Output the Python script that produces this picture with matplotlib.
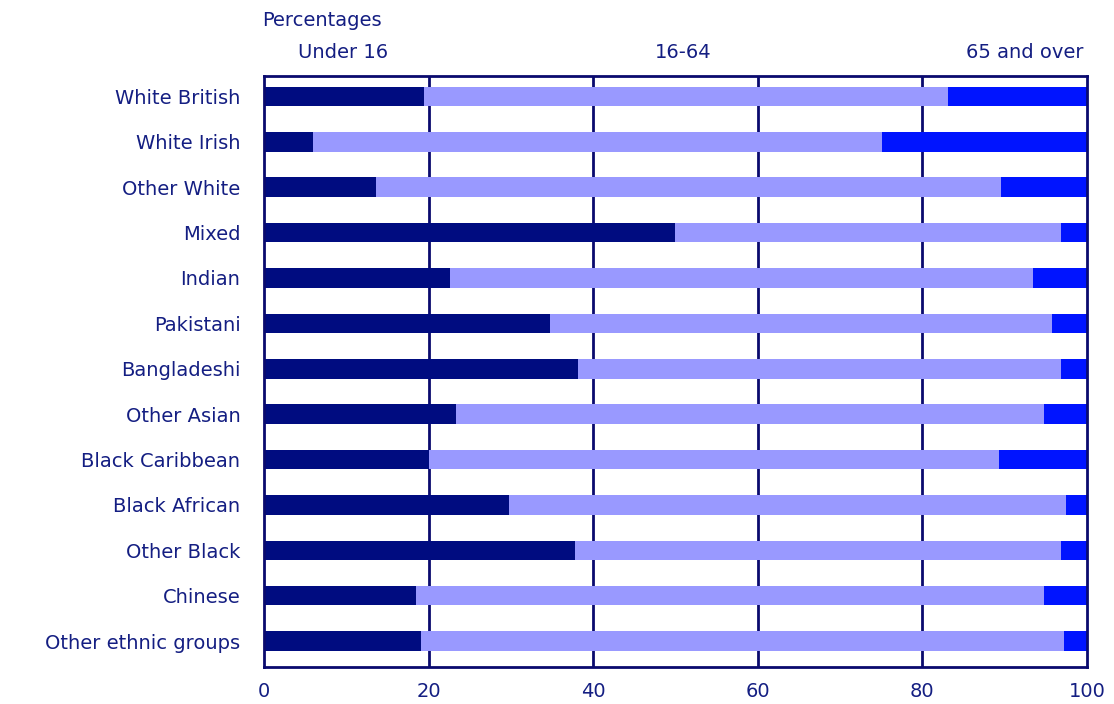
import matplotlib.pyplot as plt
import numpy as np

# Age distribution by ethnic group (percentages)
groups = ["White British", "White Irish", "Other White", "Mixed", "Indian",
          "Pakistani", "Bangladeshi", "Other Asian", "Black Caribbean",
          "Black African", "Other Black", "Chinese", "Other ethnic groups"]
under_16 = [19.5, 6.0, 13.6, 49.9, 22.6, 34.7, 38.1, 23.3, 20.1, 29.8, 37.8, 18.5, 19.1]
age_16_64 = [63.6, 69.1, 76.0, 47.0, 70.8, 61.1, 58.8, 71.5, 69.2, 67.7, 59.1, 76.3, 78.1]
over_65 = [16.9, 24.9, 10.4, 3.1, 6.6, 4.2, 3.1, 5.2, 10.7, 2.5, 3.1, 5.2, 2.8]
ticks = [0, 20, 40, 60, 80, 100]

NAVY = "#000C80"
LIGHT = "#9999FF"
BLUE = "#0014FF"
TEXT = "#141E82"
GRID = "#0A0A6E"
FS = 14

fig = plt.figure(figsize=(11.14, 7.04), dpi=100, facecolor="white")
ax = fig.add_axes([0.237, 0.0526, 0.7387, 0.8395])

y = np.arange(len(groups))
h = 0.43
left = np.zeros(len(groups))
for vals, col in [(under_16, NAVY), (age_16_64, LIGHT), (over_65, BLUE)]:
    ax.barh(y, vals, left=left, height=h, color=col, edgecolor="none", zorder=2)
    left = left + np.array(vals)

ax.set_xlim(0, 100)
ax.set_ylim(12.57, -0.45)
ax.set_xticks(ticks)
ax.set_xticklabels([str(t) for t in ticks])
ax.set_yticks(y)
ax.set_yticklabels(groups)
for t in ticks[1:-1]:
    ax.axvline(t, color=GRID, lw=2, zorder=1)
ax.tick_params(length=0, colors=TEXT, labelsize=FS)
ax.tick_params(axis="y", pad=17)
ax.tick_params(axis="x", pad=11)
for lab in ax.get_xticklabels() + ax.get_yticklabels():
    lab.set_color(TEXT)
for s in ax.spines.values():
    s.set_color(GRID)
    s.set_linewidth(2)

fig.text(262 / 1114, 1 - 20 / 704, "Percentages", color=TEXT, fontsize=FS,
         ha="left", va="center")
fig.text(343 / 1114, 1 - 53 / 704, "Under 16", color=TEXT, fontsize=FS,
         ha="center", va="center")
fig.text(683 / 1114, 1 - 53 / 704, "16-64", color=TEXT, fontsize=FS,
         ha="center", va="center")
fig.text(1083 / 1114, 1 - 53 / 704, "65 and over", color=TEXT, fontsize=FS,
         ha="right", va="center")

fig.savefig("out.png", dpi=100, facecolor="white")
